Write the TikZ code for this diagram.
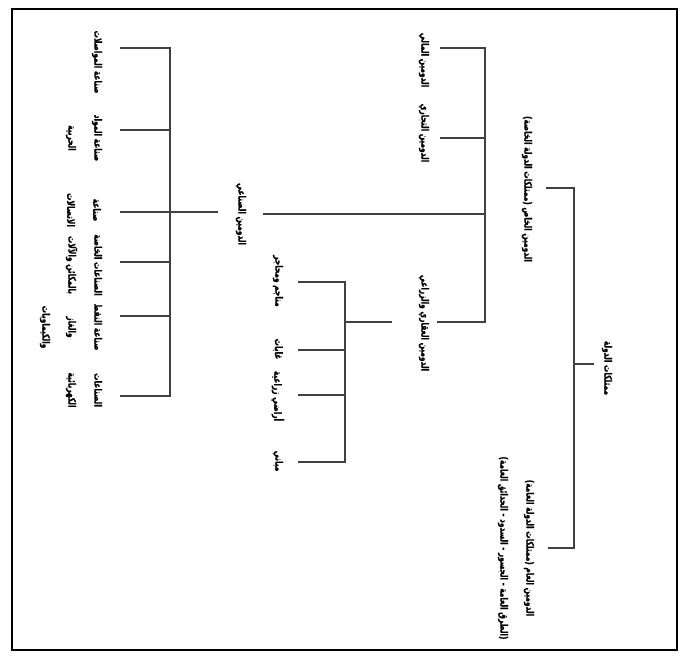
\documentclass[tikz,border=0pt]{standalone}
\usepackage{fontspec}
\TeXXeTstate=1
\newfontfamily\arabicfont[Script=Arabic,FakeStretch=0.72,BoldFeatures={FakeBold=0.6}]{DejaVu Sans}
\newcommand\myR[1]{\beginR #1\endR}
\begin{document}
\begin{tikzpicture}[x=1pt,y=-1pt,
  lbl/.style={font=\arabicfont\bfseries\fontsize{10.3}{26}\selectfont, rotate=-90, align=center, inner sep=0pt},
  conn/.style={draw=black!75, line width=1.2pt},
  frame/.style={draw=black, line width=1.6pt}]
\useasboundingbox (0,0) rectangle (683,656);
\draw[frame] (12,9) rectangle (677,650);
% nodes
\node[lbl] (root) at (607,368) {\myR{ممتلكات الدولة}};
\node[lbl] (priv) at (527,189) {\myR{الدومين الخاص (ممتلكات الدولة الخاصة)}};
\node[lbl] (pub) at (516,548) {\myR{الدومين العام (ممتلكات الدولة العامة)}\\\myR{(الطرق العامة - الجسور - السدود - الحدائق العامة)}};
\node[lbl] (mali) at (424,60) {\myR{الدومين المالي}};
\node[lbl] (tijari) at (424,133) {\myR{الدومين التجاري}};
\node[lbl] (aqari) at (424,323) {\myR{الدومين العقاري والزراعي}};
\node[lbl] (sinai) at (241,214) {\myR{الدومين الصناعي}};
\node[lbl] (a1) at (278,281) {\myR{مناجم ومحاجر}};
\node[lbl] (a2) at (278,349) {\myR{غابات}};
\node[lbl] (a3) at (278,396) {\myR{أراضي زراعية}};
\node[lbl] (a4) at (278,461) {\myR{مباني}};
\node[lbl] (s1) at (97,62) {\myR{صناعة المواصلات}};
\node[lbl] (s2) at (84,138) {\myR{صناعة المواد}\\\myR{الحربية}};
\node[lbl] (s3) at (84,210) {\myR{صناعة}\\\myR{الاتصالات}};
\node[lbl] (s4) at (84,265) {\myR{الصناعات الخاصة}\\\myR{بالمكائن والآلات}};
\node[lbl] (s5) at (71,327) {\myR{صناعة النفط}\\\myR{والغاز}\\\myR{والكيماويات}};
\node[lbl] (s6) at (84,390) {\myR{الصناعات}\\\myR{الكهربائية}};
% coordinates
\coordinate (rT) at (574,188); \coordinate (rB) at (574,548);
\coordinate (rM) at (574,364); \coordinate (rS) at (594,364);
\coordinate (rTt) at (546,188); \coordinate (rBt) at (548,548);
\coordinate (pT) at (485,48); \coordinate (pB) at (485,322);
\coordinate (pM) at (485,214);
\coordinate (p1) at (440,48); \coordinate (p2) at (440,138); \coordinate (p2r) at (485,138);
\coordinate (p3) at (437,322); \coordinate (p4) at (263,214);
\coordinate (aL) at (392,322); \coordinate (aM) at (345,322);
\coordinate (aT) at (345,282); \coordinate (aB) at (345,462);
\coordinate (a1t) at (298,282); \coordinate (a2t) at (298,350); \coordinate (a2r) at (345,350);
\coordinate (a3t) at (298,395); \coordinate (a3r) at (345,395); \coordinate (a4t) at (298,462);
\coordinate (iR) at (218,212); \coordinate (iT) at (170,48); \coordinate (iB) at (170,396);
\coordinate (i1) at (120,48); \coordinate (i2) at (120,130); \coordinate (i2r) at (170,130);
\coordinate (i3) at (120,212);
\coordinate (i4) at (120,262); \coordinate (i4r) at (170,262);
\coordinate (i5) at (120,316); \coordinate (i5r) at (170,316);
\coordinate (i6) at (120,396);
% root bracket
\draw[conn] (rTt) -- (rT) -- (rB) -- (rBt);
\draw[conn] (rM) -- (rS);
% private bracket
\draw[conn] (p1) -- (pT) -- (pB) -- (p3);
\draw[conn] (p2) -- (p2r);
\draw[conn] (p4) -- (pM);
% agricultural bracket
\draw[conn] (aL) -- (aM);
\draw[conn] (a1t) -- (aT) -- (aB) -- (a4t);
\draw[conn] (a2t) -- (a2r);
\draw[conn] (a3t) -- (a3r);
% industrial bracket
\draw[conn] (i1) -- (iT) -- (iB) -- (i6);
\draw[conn] (i3) -- (iR);
\draw[conn] (i2) -- (i2r);
\draw[conn] (i4) -- (i4r);
\draw[conn] (i5) -- (i5r);
\end{tikzpicture}
\end{document}
